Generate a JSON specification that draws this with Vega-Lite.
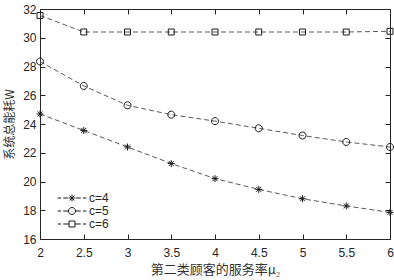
{
  "$schema": "https://vega.github.io/schema/vega-lite/v6.json",
  "width": 350,
  "height": 230,
  "autosize": "none",
  "padding": {"left": 40, "top": 9, "right": 4, "bottom": 41},
  "background": "white",
  "config": {
    "view": {"stroke": "#262626", "strokeWidth": 1},
    "font": "Liberation Sans"
  },
  "data": {
    "values": [
      {"mu": 2, "W": 24.7, "c": "c=4"},
      {"mu": 2.5, "W": 23.55, "c": "c=4"},
      {"mu": 3, "W": 22.4, "c": "c=4"},
      {"mu": 3.5, "W": 21.25, "c": "c=4"},
      {"mu": 4, "W": 20.2, "c": "c=4"},
      {"mu": 4.5, "W": 19.45, "c": "c=4"},
      {"mu": 5, "W": 18.8, "c": "c=4"},
      {"mu": 5.5, "W": 18.3, "c": "c=4"},
      {"mu": 6, "W": 17.85, "c": "c=4"},
      {"mu": 2, "W": 28.35, "c": "c=5"},
      {"mu": 2.5, "W": 26.65, "c": "c=5"},
      {"mu": 3, "W": 25.3, "c": "c=5"},
      {"mu": 3.5, "W": 24.65, "c": "c=5"},
      {"mu": 4, "W": 24.2, "c": "c=5"},
      {"mu": 4.5, "W": 23.7, "c": "c=5"},
      {"mu": 5, "W": 23.2, "c": "c=5"},
      {"mu": 5.5, "W": 22.75, "c": "c=5"},
      {"mu": 6, "W": 22.4, "c": "c=5"},
      {"mu": 2, "W": 31.55, "c": "c=6"},
      {"mu": 2.5, "W": 30.4, "c": "c=6"},
      {"mu": 3, "W": 30.4, "c": "c=6"},
      {"mu": 3.5, "W": 30.4, "c": "c=6"},
      {"mu": 4, "W": 30.4, "c": "c=6"},
      {"mu": 4.5, "W": 30.4, "c": "c=6"},
      {"mu": 5, "W": 30.4, "c": "c=6"},
      {"mu": 5.5, "W": 30.4, "c": "c=6"},
      {"mu": 6, "W": 30.45, "c": "c=6"}
    ]
  },
  "layer": [
    {
      "mark": {"type": "line", "stroke": "#5a5a5a", "strokeWidth": 1, "strokeDash": [5, 3]},
      "encoding": {
        "detail": {"field": "c"},
        "x": {"field": "mu", "type": "quantitative", "scale": {"domain": [2, 6], "nice": false, "zero": false},
          "axis": {"orient": "bottom", "values": [2, 2.5, 3, 3.5, 4, 4.5, 5, 5.5, 6], "format": "~g", "grid": false, "domain": false,
            "tickSize": -5, "tickColor": "#262626", "labelPadding": 13, "labelFontSize": 12, "labelColor": "#262626", "labelFlush": false,
            "title": "第二类顾客的服务率μ₂", "titleFont": "Noto Sans CJK SC", "titleFontWeight": "normal", "titleFontSize": 13, "titleColor": "#333333", "titlePadding": 5}},
        "y": {"field": "W", "type": "quantitative", "scale": {"domain": [16, 32], "nice": false, "zero": false},
          "axis": {"orient": "left", "values": [16, 18, 20, 22, 24, 26, 28, 30, 32], "format": "~g", "grid": false, "domain": false,
            "tickSize": -5, "tickColor": "#262626", "labelPadding": 9, "labelFontSize": 12, "labelColor": "#262626", "labelFlush": false,
            "title": "系统总能耗W", "titleFont": "Noto Sans CJK SC", "titleFontWeight": "normal", "titleFontSize": 12, "titleColor": "#333333", "titlePadding": 6}}
      }
    },
    {
      "mark": {"type": "point", "filled": false, "strokeWidth": 1, "color": "#1a1a1a", "size": 49, "opacity": 1},
      "encoding": {
        "x": {"field": "mu", "type": "quantitative", "scale": {"domain": [2, 6], "nice": false, "zero": false}, "axis": null},
        "y": {"field": "W", "type": "quantitative", "scale": {"domain": [16, 32], "nice": false, "zero": false}, "axis": null},
        "shape": {
          "field": "c", "type": "nominal",
          "scale": {"domain": ["c=4", "c=5", "c=6"], "range": [
            "M-1,0H1M0,-1V1M-0.7,-0.7L0.7,0.7M-0.7,0.7L0.7,-0.7",
            "M-1,0A1,1 0 1,1 1,0A1,1 0 1,1 -1,0Z",
            "M-0.85,-0.85H0.85V0.85H-0.85Z"
          ]},
          "legend": null
        }
      }
    },
    {
      "mark": {"type": "point", "opacity": 0, "filled": false},
      "encoding": {
        "x": {"field": "mu", "type": "quantitative", "scale": {"domain": [2, 6], "nice": false, "zero": false},
          "axis": {"orient": "top", "values": [2, 2.5, 3, 3.5, 4, 4.5, 5, 5.5, 6], "grid": false, "domain": false, "labels": false, "title": null, "tickSize": -5, "tickColor": "#262626"}},
        "y": {"field": "W", "type": "quantitative", "scale": {"domain": [16, 32], "nice": false, "zero": false},
          "axis": {"orient": "right", "values": [16, 18, 20, 22, 24, 26, 28, 30, 32], "grid": false, "domain": false, "labels": false, "title": null, "tickSize": -5, "tickColor": "#262626"}},
        "shape": {
          "field": "c", "type": "nominal",
          "scale": {"domain": ["c=4", "c=5", "c=6"], "range": [
            "M-4.1,0H-3.1M-2.5,0H-1.2M-1,0H1M0,-1V1M-0.7,-0.7L0.7,0.7M-0.7,0.7L0.7,-0.7M1.2,0H2.5M3.1,0H4.1",
            "M-4.1,0H-3.1M-2.5,0H-1M-1,0A1,1 0 1,1 1,0A1,1 0 1,1 -1,0M1,0H2.5M3.1,0H4.1",
            "M-4.1,0H-3.1M-2.5,0H-0.85M-0.85,-0.85H0.85V0.85H-0.85ZM0.85,0H2.5M3.1,0H4.1"
          ]},
          "legend": {
            "title": null, "orient": "none", "legendX": 26, "legendY": 183, "padding": 0,
            "symbolSize": 49, "symbolStrokeWidth": 1, "symbolStrokeColor": "#1a1a1a", "symbolFillColor": "transparent", "symbolOpacity": 1,
            "labelFontSize": 12, "labelColor": "#262626", "labelOffset": 11, "rowPadding": 1
          }
        }
      }
    }
  ],
  "resolve": {"axis": {"x": "independent", "y": "independent"}, "scale": {"shape": "independent"}}
}
